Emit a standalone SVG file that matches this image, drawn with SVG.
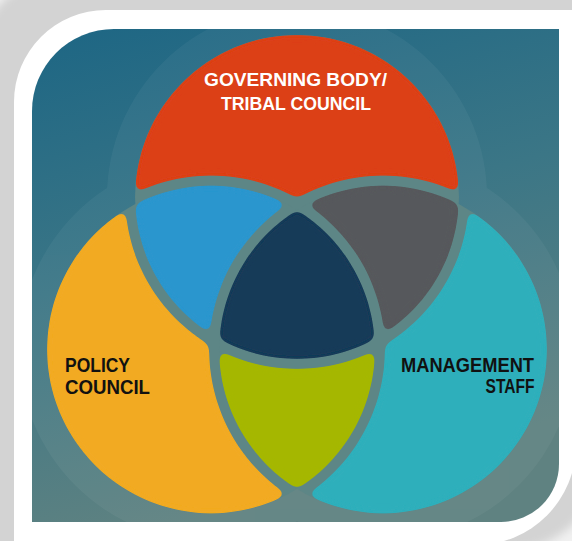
<svg xmlns="http://www.w3.org/2000/svg" width="572" height="541" viewBox="0 0 572 541">
<defs>
  <style>
    .lbl{font-family:"Liberation Sans",Arial,sans-serif;font-weight:bold;}
    .w{fill:#ffffff;font-size:19px;}
    .k{fill:#111111;font-size:19.5px;}
    .rg{filter:url(#rnd);}
  </style>
  <filter id="blur" x="-10%" y="-10%" width="120%" height="120%">
    <feGaussianBlur stdDeviation="5"/>
  </filter>
  <filter id="rnd" filterUnits="userSpaceOnUse" x="0" y="0" width="572" height="541">
    <feGaussianBlur in="SourceGraphic" stdDeviation="4" result="b"/>
    <feComponentTransfer in="b">
      <feFuncA type="linear" slope="12" intercept="-5.5"/>
    </feComponentTransfer>
  </filter>
  <linearGradient id="bg" x1="0" y1="0" x2="0.3" y2="1">
    <stop offset="0" stop-color="#1d6684"/>
    <stop offset="0.5" stop-color="#3b7686"/>
    <stop offset="1" stop-color="#5f8281"/>
  </linearGradient>
  <clipPath id="cImg"><path d="M32,111 A82,82 0 0 1 114,29 H559 V464 A58,58 0 0 1 501,522 H32 Z"/></clipPath>
  <clipPath id="cTi"><circle cx="297" cy="197" r="162"/></clipPath>
  <clipPath id="cLi"><circle cx="211" cy="349.5" r="164"/></clipPath>
  <mask id="mNotLR" maskUnits="userSpaceOnUse" x="0" y="0" width="572" height="541">
    <rect width="572" height="541" fill="#fff"/>
    <circle cx="211" cy="349.5" r="174" fill="#000"/>
    <circle cx="383" cy="349.5" r="174" fill="#000"/>
  </mask>
  <mask id="mNotTR" maskUnits="userSpaceOnUse" x="0" y="0" width="572" height="541">
    <rect width="572" height="541" fill="#fff"/>
    <circle cx="297" cy="197" r="172" fill="#000"/>
    <circle cx="383" cy="349.5" r="174" fill="#000"/>
  </mask>
  <mask id="mNotTL" maskUnits="userSpaceOnUse" x="0" y="0" width="572" height="541">
    <rect width="572" height="541" fill="#fff"/>
    <circle cx="297" cy="197" r="172" fill="#000"/>
    <circle cx="211" cy="349.5" r="174" fill="#000"/>
  </mask>
  <mask id="mNotR" maskUnits="userSpaceOnUse" x="0" y="0" width="572" height="541">
    <rect width="572" height="541" fill="#fff"/>
    <circle cx="383" cy="349.5" r="174" fill="#000"/>
  </mask>
  <mask id="mNotL" maskUnits="userSpaceOnUse" x="0" y="0" width="572" height="541">
    <rect width="572" height="541" fill="#fff"/>
    <circle cx="211" cy="349.5" r="174" fill="#000"/>
  </mask>
  <mask id="mNotT" maskUnits="userSpaceOnUse" x="0" y="0" width="572" height="541">
    <rect width="572" height="541" fill="#fff"/>
    <circle cx="297" cy="197" r="172" fill="#000"/>
  </mask>
</defs>

<!-- page and frame -->
<rect x="0" y="0" width="572" height="541" fill="#f1f1f1"/>
<path d="M-30,70 A110,110 0 0 1 80,-30 H600 V460 A90,90 0 0 1 510,550 H-30 Z" fill="#d3d3d3" filter="url(#blur)"/>
<path d="M14,102 A92,92 0 0 1 106,10 H576 V445 A100,100 0 0 1 476,545 H14 Z" fill="#ffffff"/>

<g clip-path="url(#cImg)">
  <rect x="32" y="29" width="527" height="493" fill="url(#bg)"/>
  <g opacity="0.045" fill="#ffffff">
    <circle cx="297" cy="197" r="190"/>
    <circle cx="211" cy="349.5" r="192"/>
    <circle cx="383" cy="349.5" r="192"/>
  </g>

  <g id="connectors" fill="#5d8686">
    <circle cx="297" cy="197" r="162"/>
    <circle cx="211" cy="349.5" r="164"/>
    <circle cx="383" cy="349.5" r="164"/>
  </g>

  <g id="governing-body" class="rg">
    <circle cx="297" cy="197" r="162" fill="#dc3f17" mask="url(#mNotLR)"/>
  </g>
  <g id="policy-council" class="rg">
    <circle cx="211" cy="349.5" r="164" fill="#f2aa20" mask="url(#mNotTR)"/>
  </g>
  <g id="management-staff" class="rg">
    <circle cx="383" cy="349.5" r="164" fill="#2dafbb" mask="url(#mNotTL)"/>
  </g>
  <g id="governing-policy" class="rg">
    <circle cx="211" cy="349.5" r="164" fill="#2996ce" clip-path="url(#cTi)" mask="url(#mNotR)"/>
  </g>
  <g id="governing-management" class="rg">
    <circle cx="383" cy="349.5" r="164" fill="#57595b" clip-path="url(#cTi)" mask="url(#mNotL)"/>
  </g>
  <g id="policy-management" class="rg">
    <circle cx="383" cy="349.5" r="164" fill="#a5b700" clip-path="url(#cLi)" mask="url(#mNotT)"/>
  </g>
  <g id="shared-center" class="rg">
    <g clip-path="url(#cLi)">
      <circle cx="383" cy="349.5" r="164" fill="#133a59" clip-path="url(#cTi)"/>
    </g>
  </g>

  <g id="labels">
    <text class="lbl w" x="295.5" y="86" text-anchor="middle" textLength="183" lengthAdjust="spacingAndGlyphs">GOVERNING BODY/</text>
    <text class="lbl w" x="296" y="110" text-anchor="middle" textLength="150" lengthAdjust="spacingAndGlyphs">TRIBAL COUNCIL</text>
    <text class="lbl k" x="65" y="371.5" textLength="65" lengthAdjust="spacingAndGlyphs">POLICY</text>
    <text class="lbl k" x="65" y="393.5" textLength="85" lengthAdjust="spacingAndGlyphs">COUNCIL</text>
    <text class="lbl k" x="401" y="371.5" textLength="133" lengthAdjust="spacingAndGlyphs">MANAGEMENT</text>
    <text class="lbl k" x="485.5" y="392.5" textLength="49" lengthAdjust="spacingAndGlyphs">STAFF</text>
  </g>
</g>
</svg>
